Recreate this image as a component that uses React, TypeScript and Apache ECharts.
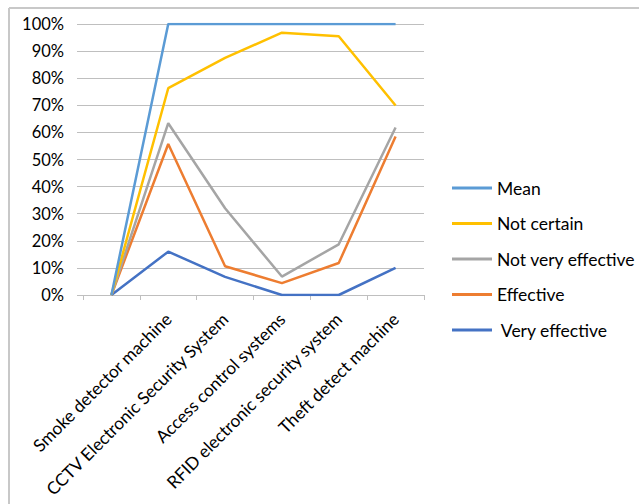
import React, { useEffect, useRef } from "react";
import * as echarts from "echarts";

const categories = [
  "",
  "Smoke detector machine",
  "CCTV Electronic Security System",
  "Access control systems",
  "RFID electronic security system",
  "Theft detect machine",
];
const seriesNames = ["Mean", "Not certain", "Not very effective", "Effective", " Very effective"];
const meanValues = [0, 100, 100, 100, 100, 100];
const notCertainValues = [0, 76.3, 87.5, 96.8, 95.5, 69.9];
const notVeryEffectiveValues = [0, 63.4, 32, 6.8, 18.7, 61.8];
const effectiveValues = [0, 55.7, 10.6, 4.4, 11.8, 58.5];
const veryEffectiveValues = [0, 16, 6.7, 0, 0, 10];
const yTicks = [0, 10, 20, 30, 40, 50, 60, 70, 80, 90, 100];
const colors = ["#5B9BD5", "#FFC000", "#A5A5A5", "#ED7D31", "#4472C4"];

const FONT = "Lato, 'Open Sans', sans-serif";

export default function App() {
  const ref = useRef<HTMLDivElement>(null);
  useEffect(() => {
    document.body.style.margin = "0";
    const chart = echarts.init(ref.current!, null, { renderer: "svg" });
    const values = [meanValues, notCertainValues, notVeryEffectiveValues, effectiveValues, veryEffectiveValues];
    chart.setOption({
      animation: false,
      backgroundColor: "#fff",
      textStyle: { fontFamily: FONT },
      grid: { left: 83, right: 215, top: 24, bottom: 209, containLabel: false, outerBoundsMode: "none" },
      legend: {
        orient: "vertical",
        left: 447,
        top: 173,
        itemWidth: 40,
        itemHeight: 3,
        itemGap: 15.5,
        icon: "rect",
        textStyle: { fontFamily: FONT, fontSize: 17.5, color: "#000", lineHeight: 20 },
        data: seriesNames,
      },
      xAxis: {
        type: "category",
        data: categories,
        boundaryGap: true,
        axisLine: { lineStyle: { color: "#BFBFBF", width: 1 } },
        axisTick: { show: true, length: 5, lineStyle: { color: "#BFBFBF" } },
        axisLabel: {
          interval: 0,
          rotate: 45,
          margin: 21,
          fontFamily: FONT,
          fontSize: 17.3,
          color: "#000",
        },
      },
      yAxis: {
        type: "value",
        min: yTicks[0],
        max: yTicks[yTicks.length - 1],
        interval: 10,
        axisLine: { show: false },
        axisTick: { show: true, length: 6, lineStyle: { color: "#BFBFBF" } },
        splitLine: { lineStyle: { color: "#BFBFBF", width: 1 } },
        axisLabel: {
          formatter: (v: number) => v + "%",
          margin: 19,
          fontFamily: FONT,
          fontSize: 16.5,
          color: "#000",
        },
      },
      series: seriesNames.map((name, i) => ({
        name,
        type: "line",
        data: values[i],
        symbol: "none",
        lineStyle: { color: colors[i], width: 2.5 },
        itemStyle: { color: colors[i] },
        z: 10 - i,
      })),
      graphic: [
        { type: "line", shape: { x1: 9, y1: 8, x2: 639, y2: 8 }, style: { stroke: "#C8C8C8", lineWidth: 2 } },
        { type: "line", shape: { x1: 9, y1: 8, x2: 9, y2: 504 }, style: { stroke: "#C8C8C8", lineWidth: 2 } },
      ],
    });
    return () => chart.dispose();
  }, []);
  return <div ref={ref} style={{ width: 639, height: 504 }} />;
}
